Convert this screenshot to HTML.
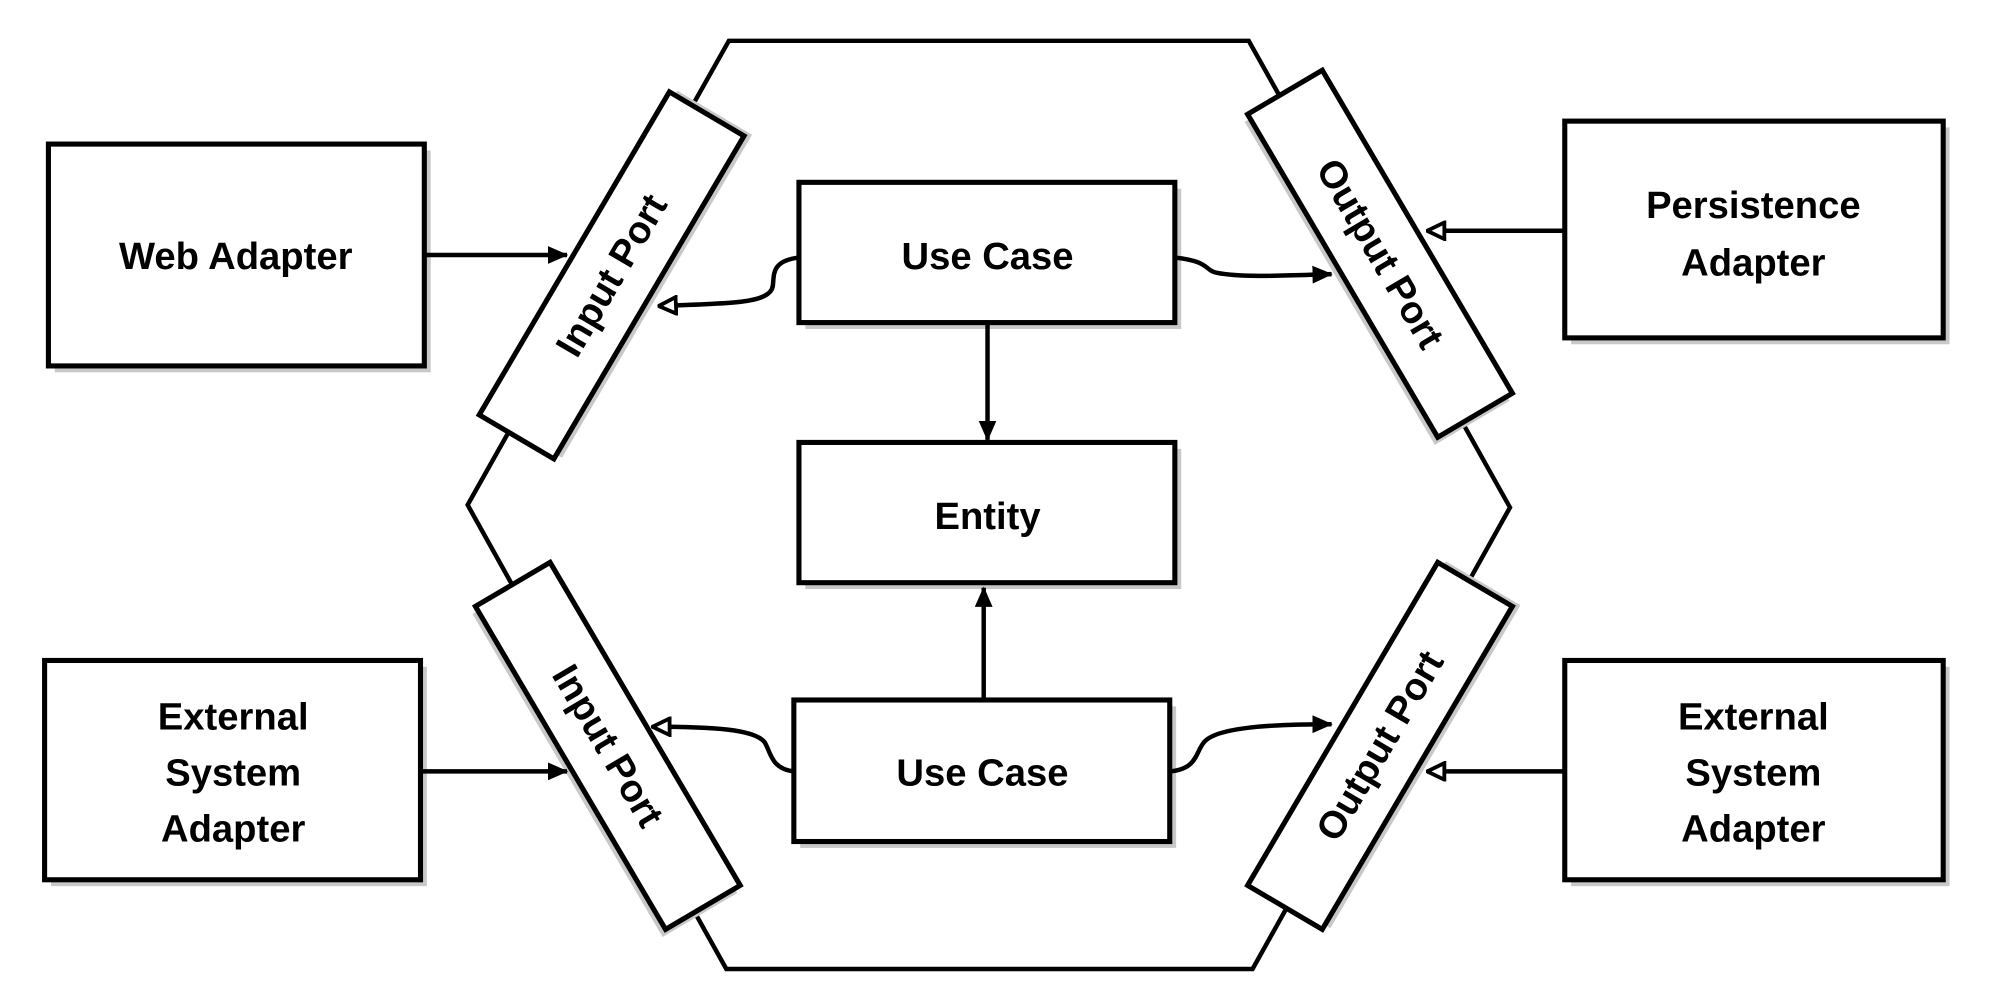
<!DOCTYPE html>
<html><head><style>html,body{margin:0;padding:0;background:#fff}svg{display:block}</style></head>
<body>
<svg width="1998" height="1006" viewBox="0 0 1568 789" preserveAspectRatio="none" xmlns="http://www.w3.org/2000/svg">
<defs>
<marker id="f" markerWidth="16" markerHeight="14" refX="15" refY="7" orient="auto" markerUnits="userSpaceOnUse"><path d="M0,0 L16,7 L0,14 Z" fill="#000"/></marker>
<marker id="h" markerWidth="16" markerHeight="16" refX="15" refY="8" orient="auto" markerUnits="userSpaceOnUse"><path d="M1.5,1.5 L15,8 L1.5,14.5 Z" fill="#fff" stroke="#000" stroke-width="3"/></marker>
</defs>
<g fill="none" stroke="#000" stroke-width="3.5">
<path d="M572,32 L980,32 L1185,398 L983,760 L570,760 L367,396 Z"/>
</g>
<g font-family="'Liberation Sans', sans-serif" font-weight="bold" font-size="30" text-anchor="middle">
<g fill="#c8c8c8">
<rect x="43" y="118" width="295" height="174"/>
<rect x="632" y="148" width="295" height="110"/>
<rect x="632" y="352" width="295" height="110"/>
<rect x="628" y="554" width="295" height="111"/>
<rect x="1233" y="100" width="297" height="170"/>
<rect x="40" y="523" width="295" height="172"/>
<rect x="1233" y="523" width="297" height="172"/>
</g>
<g fill="#fff" stroke="#000" stroke-width="4">
<rect x="38" y="113" width="295" height="174"/>
<rect x="627" y="143" width="295" height="110"/>
<rect x="627" y="347" width="295" height="110"/>
<rect x="623" y="549" width="295" height="111"/>
<rect x="1228" y="95" width="297" height="170"/>
<rect x="35" y="518" width="295" height="172"/>
<rect x="1228" y="518" width="297" height="172"/>
</g>
<g fill="#000">
<text x="185" y="211">Web Adapter</text>
<text x="775" y="211">Use Case</text>
<text x="775" y="415">Entity</text>
<text x="771" y="616">Use Case</text>
<text x="1376" y="171">Persistence</text>
<text x="1376" y="216">Adapter</text>
<text x="183" y="572">External</text>
<text x="183" y="616">System</text>
<text x="183" y="660">Adapter</text>
<text x="1376" y="572">External</text>
<text x="1376" y="616">System</text>
<text x="1376" y="660">Adapter</text>
</g>
<g transform="translate(480,216) rotate(-59.5)">
<rect x="-147" y="-34" width="294" height="68" fill="#c8c8c8" transform="translate(4,5)"/>
<rect x="-147" y="-34" width="294" height="68" fill="#fff" stroke="#000" stroke-width="4"/>
<text x="0" y="10">Input Port</text></g>
<g transform="translate(477,585) rotate(59.5)">
<rect x="-147" y="-34" width="294" height="68" fill="#c8c8c8" transform="translate(4,5)"/>
<rect x="-147" y="-34" width="294" height="68" fill="#fff" stroke="#000" stroke-width="4"/>
<text x="0" y="10">Input Port</text></g>
<g transform="translate(1083,199) rotate(59.5)">
<rect x="-147" y="-34" width="294" height="68" fill="#c8c8c8" transform="translate(4,5)"/>
<rect x="-147" y="-34" width="294" height="68" fill="#fff" stroke="#000" stroke-width="4"/>
<text x="0" y="10">Output Port</text></g>
<g transform="translate(1083,585) rotate(-59.5)">
<rect x="-147" y="-34" width="294" height="68" fill="#c8c8c8" transform="translate(4,5)"/>
<rect x="-147" y="-34" width="294" height="68" fill="#fff" stroke="#000" stroke-width="4"/>
<text x="0" y="10">Output Port</text></g>
</g>
<g fill="none" stroke="#000" stroke-width="3.5">
<path d="M333,200 L445,200" marker-end="url(#f)"/>
<path d="M627,202 C600,205 610,222 605,228 C598,238 570,238 517,240" marker-end="url(#h)"/>
<path d="M922,202 C950,205 945,212 955,214 C975,218 1010,216 1045,215" marker-end="url(#f)"/>
<path d="M1228,181 L1120,181" marker-end="url(#h)"/>
<path d="M775,253 L775,345" marker-end="url(#f)"/>
<path d="M772,549 L772,461" marker-end="url(#f)"/>
<path d="M623,605 C605,603 605,590 600,582 C592,572 560,570 512,570" marker-end="url(#h)"/>
<path d="M918,605 C940,603 938,590 945,582 C955,570 1000,568 1045,568" marker-end="url(#f)"/>
<path d="M330,605 L445,605" marker-end="url(#f)"/>
<path d="M1228,605 L1120,605" marker-end="url(#h)"/>
</g>
</svg>
</body></html>
